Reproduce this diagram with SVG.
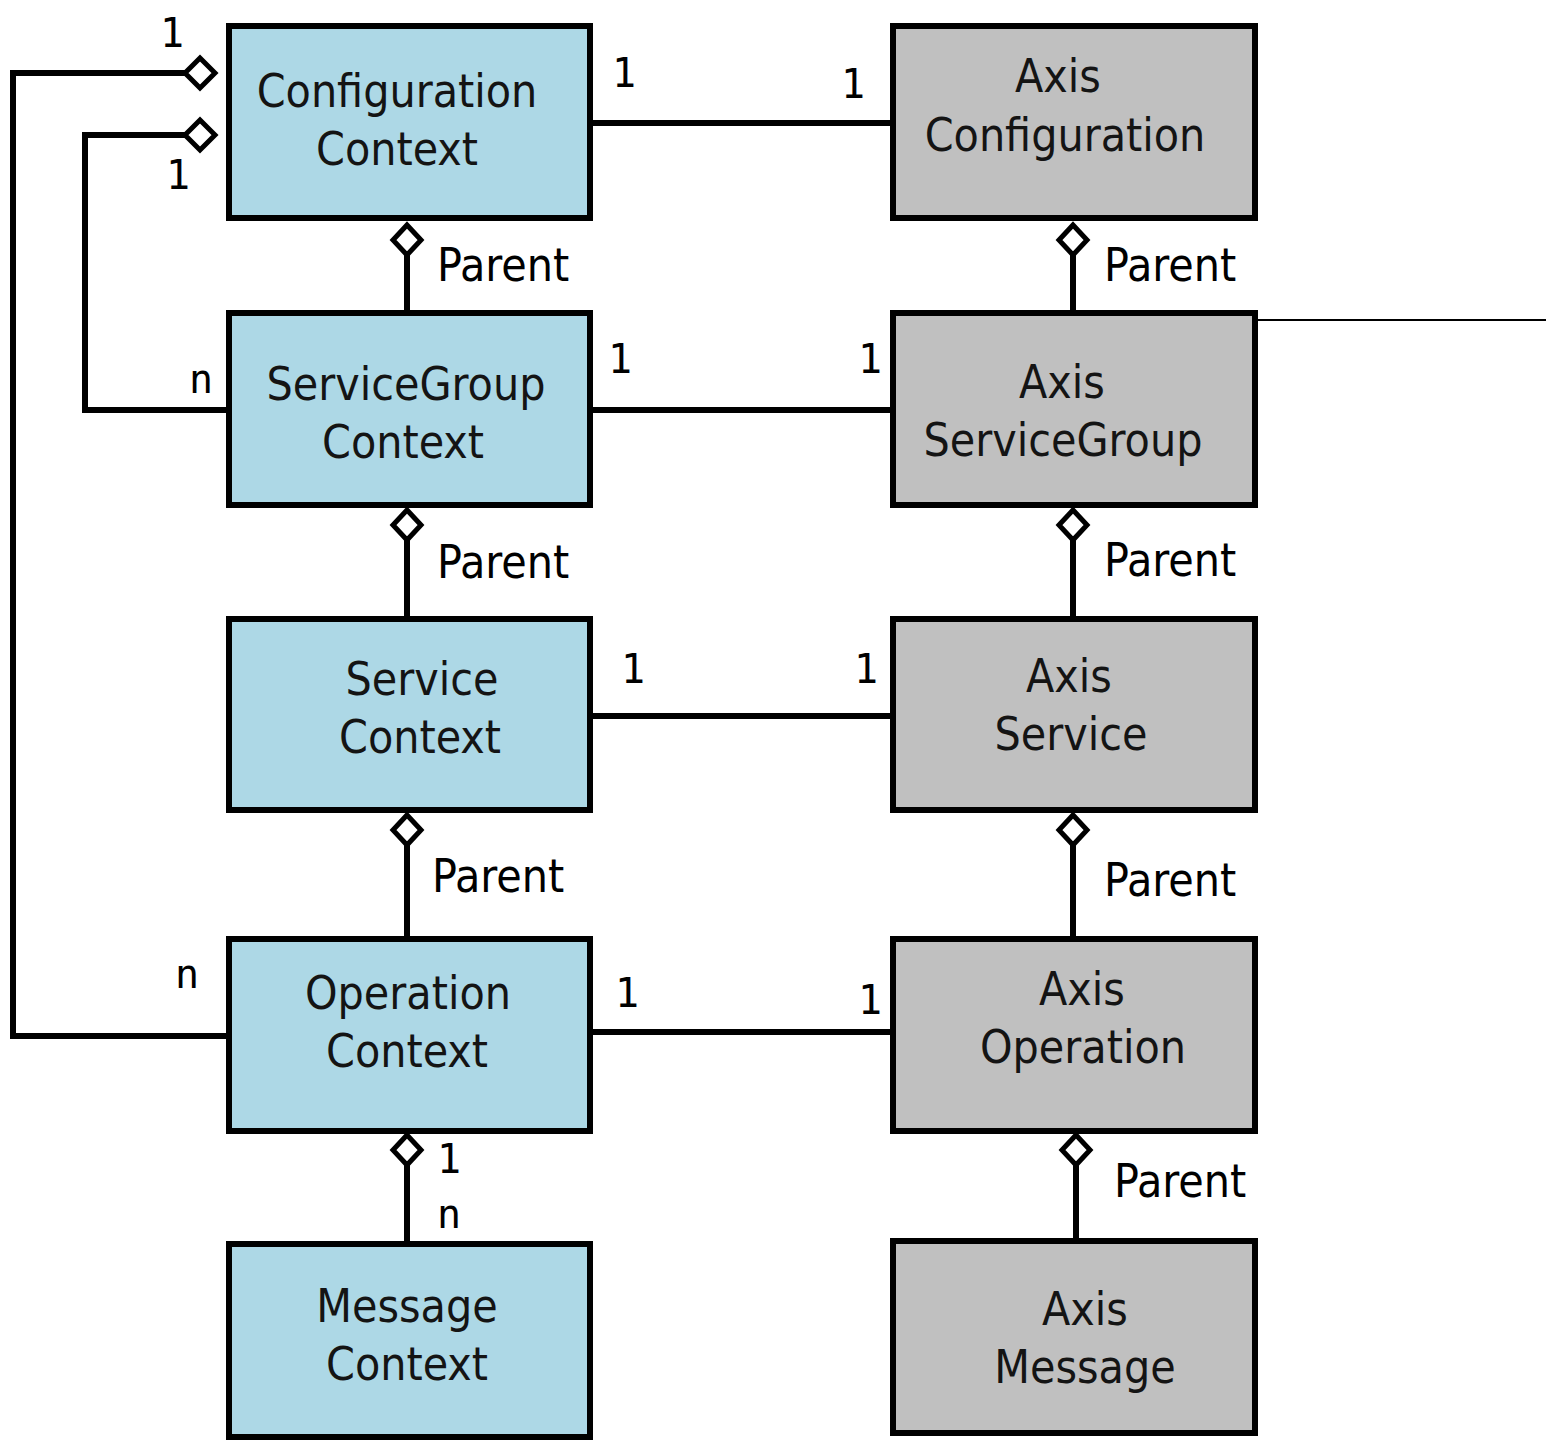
<svg xmlns="http://www.w3.org/2000/svg" width="1546" height="1440" viewBox="0 0 1546 1440">
<style>
.ctx{fill:#add8e6;stroke:#000;stroke-width:6}
.axis{fill:#c0c0c0;stroke:#000;stroke-width:6}
.t{font-family:"DejaVu Sans Condensed","DejaVu Sans",sans-serif;font-stretch:condensed;font-size:46px;fill:#141414;text-anchor:middle}
.lbl{font-family:"DejaVu Sans Condensed","DejaVu Sans",sans-serif;font-stretch:condensed;font-size:46px;fill:#000}
.num{font-family:"DejaVu Sans Mono","DejaVu Sans",monospace;font-size:40px;fill:#000;text-anchor:middle}
.ln{fill:none;stroke:#000;stroke-width:6}
.dia{fill:#fff;stroke:#000;stroke-width:5}
</style>
<defs>
<polygon id="dv" points="0,-15 14,0 0,15 -14,0"/>
<polygon id="dh" points="0,-15 15,0 0,15 -15,0"/>
</defs>
<g id="connectors">
<line class="ln" x1="590" y1="123" x2="893" y2="123"/>
<line class="ln" x1="590" y1="410" x2="893" y2="410"/>
<line class="ln" x1="590" y1="716" x2="893" y2="716"/>
<line class="ln" x1="590" y1="1032" x2="893" y2="1032"/>
<line class="ln" x1="407" y1="240" x2="407" y2="313"/>
<line class="ln" x1="407" y1="525" x2="407" y2="619"/>
<line class="ln" x1="407" y1="830" x2="407" y2="939"/>
<line class="ln" x1="407" y1="1150" x2="407" y2="1244"/>
<line class="ln" x1="1073" y1="240" x2="1073" y2="313"/>
<line class="ln" x1="1073" y1="525" x2="1073" y2="619"/>
<line class="ln" x1="1073" y1="830" x2="1073" y2="939"/>
<line class="ln" x1="1076" y1="1150" x2="1076" y2="1241"/>
<polyline class="ln" points="186,73 13,73 13,1036 229,1036"/>
<polyline class="ln" points="186,135 85,135 85,410 229,410"/>
<line x1="1255" y1="320" x2="1546" y2="320" stroke="#000" stroke-width="2"/>
<use href="#dh" class="dia" x="200" y="73"/>
<use href="#dh" class="dia" x="200" y="135"/>
<use href="#dv" class="dia" x="407" y="240"/>
<use href="#dv" class="dia" x="407" y="525"/>
<use href="#dv" class="dia" x="407" y="830"/>
<use href="#dv" class="dia" x="407" y="1150"/>
<use href="#dv" class="dia" x="1073" y="240"/>
<use href="#dv" class="dia" x="1073" y="525"/>
<use href="#dv" class="dia" x="1073" y="830"/>
<use href="#dv" class="dia" x="1076" y="1150"/>
<text class="num" x="172" y="47">1</text>
<text class="num" x="178" y="189">1</text>
<text class="num" x="201" y="393">n</text>
<text class="num" x="187" y="988">n</text>
<text class="num" x="624" y="87">1</text>
<text class="num" x="853" y="98">1</text>
<text class="num" x="620" y="373">1</text>
<text class="num" x="870" y="373">1</text>
<text class="num" x="633" y="683">1</text>
<text class="num" x="866" y="683">1</text>
<text class="num" x="627" y="1007">1</text>
<text class="num" x="870" y="1014">1</text>
<text class="num" x="449" y="1173">1</text>
<text class="num" x="449" y="1228">n</text>
<text class="lbl" x="437" y="281">Parent</text>
<text class="lbl" x="1104" y="281">Parent</text>
<text class="lbl" x="437" y="578">Parent</text>
<text class="lbl" x="1104" y="576">Parent</text>
<text class="lbl" x="432" y="892">Parent</text>
<text class="lbl" x="1104" y="896">Parent</text>
<text class="lbl" x="1114" y="1197">Parent</text>
</g>
<g id="configuration-context"><rect class="ctx" x="229" y="26" width="361" height="192"/><text class="t" x="397" y="107">Configuration</text><text class="t" x="397" y="165">Context</text></g>
<g id="axis-configuration"><rect class="axis" x="893" y="26" width="362" height="192"/><text class="t" x="1058" y="92">Axis</text><text class="t" x="1065" y="151">Configuration</text></g>
<g id="servicegroup-context"><rect class="ctx" x="229" y="313" width="361" height="192"/><text class="t" x="406" y="400">ServiceGroup</text><text class="t" x="403" y="458">Context</text></g>
<g id="axis-servicegroup"><rect class="axis" x="893" y="313" width="362" height="192"/><text class="t" x="1062" y="398">Axis</text><text class="t" x="1063" y="456">ServiceGroup</text></g>
<g id="service-context"><rect class="ctx" x="229" y="619" width="361" height="191"/><text class="t" x="422" y="695">Service</text><text class="t" x="420" y="753">Context</text></g>
<g id="axis-service"><rect class="axis" x="893" y="619" width="362" height="191"/><text class="t" x="1069" y="692">Axis</text><text class="t" x="1071" y="750">Service</text></g>
<g id="operation-context"><rect class="ctx" x="229" y="939" width="361" height="192"/><text class="t" x="408" y="1009">Operation</text><text class="t" x="407" y="1067">Context</text></g>
<g id="axis-operation"><rect class="axis" x="893" y="939" width="362" height="192"/><text class="t" x="1082" y="1005">Axis</text><text class="t" x="1083" y="1063">Operation</text></g>
<g id="message-context"><rect class="ctx" x="229" y="1244" width="361" height="193"/><text class="t" x="407" y="1322">Message</text><text class="t" x="407" y="1380">Context</text></g>
<g id="axis-message"><rect class="axis" x="893" y="1241" width="362" height="192"/><text class="t" x="1085" y="1325">Axis</text><text class="t" x="1085" y="1383">Message</text></g>
</svg>
